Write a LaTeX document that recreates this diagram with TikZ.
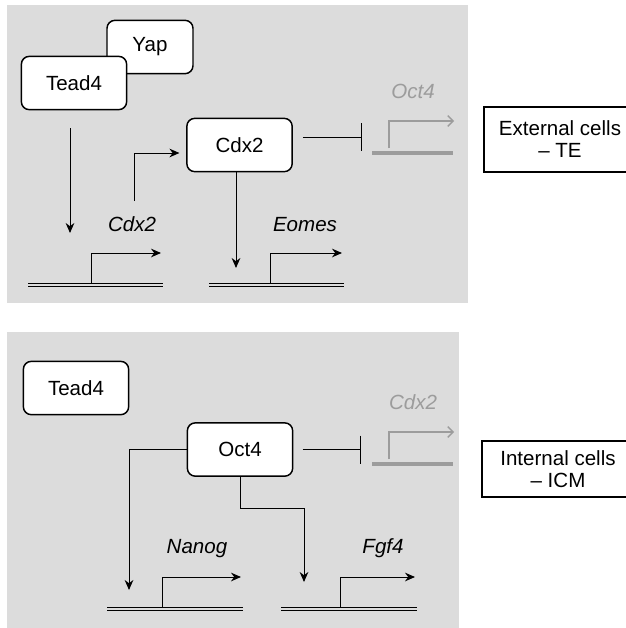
\documentclass[tikz,border=0pt]{standalone}
\usepackage{fontspec}
\setmainfont{Liberation Sans}
\usepackage{xcolor}
\usetikzlibrary{arrows.meta}
\definecolor{panel}{HTML}{DCDCDC}
\definecolor{faded}{HTML}{9C9C9C}
\tikzset{prot/.style={draw, line width=1.1pt, rounded corners=6pt, fill=white, minimum width=79pt, minimum height=40pt}}
\tikzset{arr/.style={-{Stealth[length=7.5pt, width=6.5pt]}, line width=0.75pt}}
\tikzset{inh/.style={-{Bar[width=21pt]}, line width=0.75pt}}
\tikzset{dna/.style={double=panel, double distance=1.8pt, line width=0.75pt}}
\tikzset{off/.style={draw=faded, line width=1pt}}
\tikzset{gname/.style={font=\fontsize{15.4}{16.5}\selectfont\itshape, anchor=base}}
\tikzset{cellbox/.style={draw, line width=0.9pt, align=center, inner sep=0pt, minimum width=114pt}}
\newcommand{\fgene}[4]{\draw[dna] (#1,#4) -- (#2,#4); \draw[arr] (#3,#4-2) |- (#2-2,#4-32);}
\newcommand{\foff}[4]{\draw[off, line width=3pt] (#1,#4) -- (#2,#4); \draw[off, -{Straight Barb[length=4pt, width=8pt]}] (#3,#4-5) |- (#2+1,#4-32);}

\begin{document}
\begin{tikzpicture}[x=0.75pt, y=-0.75pt, font=\fontsize{15.4}{16.5}\selectfont]
\useasboundingbox (0,0) rectangle (625,628);
\fill[panel] (7,5) rectangle (468,303);
\fill[panel] (7,332) rectangle (459,628);
% external cells
\node[prot, minimum width=64.5pt] (yap) at (150,47) {Yap};
\node[prot] (tead4) at (74,83) {Tead4};
\node[prot] (cdx2) at (239.5,145) {Cdx2};
\fgene{28}{163}{91}{285}
\fgene{209}{344}{270}{285}
\foff{372}{453}{389}{153}
\node[gname] (cdx2g) at (132,231) {Cdx2};
\node[gname] (eomesg) at (305,231) {Eomes};
\node[gname, text=faded] (oct4g) at (413,98) {Oct4};
\coordinate (t4tip) at (70,233);
\coordinate (cdx2up) at (134,201);
\coordinate (eomtip) at (236,268);
\coordinate (oct4bar) at (362,137);
\draw[arr, shorten <=13.5pt] (tead4.south -| t4tip) -- (t4tip);
\draw[arr, shorten >=5pt] (cdx2up) |- ([yshift=-6pt]cdx2.west);
\draw[arr] (cdx2.south -| eomtip) -- (eomtip);
\draw[inh, shorten <=7.5pt] (cdx2.east |- oct4bar) -- (oct4bar);
\node[cellbox, minimum height=48.75pt] (ext) at (560,139.5) {External cells\\-- TE};
% internal cells
\node[prot] (tead4b) at (76,388) {Tead4};
\node[prot] (oct4) at (240,449.5) {Oct4};
\fgene{107}{243}{162}{609}
\fgene{281}{417}{340}{609}
\foff{372}{453}{389}{464}
\node[gname] (nanogg) at (197,553) {Nanog};
\node[gname] (fgf4g) at (383,553) {Fgf4};
\node[gname, text=faded] (cdx2off) at (413,409) {Cdx2};
\coordinate (nantip) at (129,590);
\coordinate (fgftip) at (304,582);
\coordinate (cdx2bar) at (361,452);
\draw[arr] (oct4.west) -| (nantip);
\draw[arr] (oct4.south) -- ++(0,32) -| (fgftip);
\draw[inh, shorten <=7pt] (oct4.east) -- (oct4.east -| cdx2bar);
\node[cellbox, minimum height=42pt] (int) at (558,469) {Internal cells\\-- ICM};
\end{tikzpicture}
\end{document}
